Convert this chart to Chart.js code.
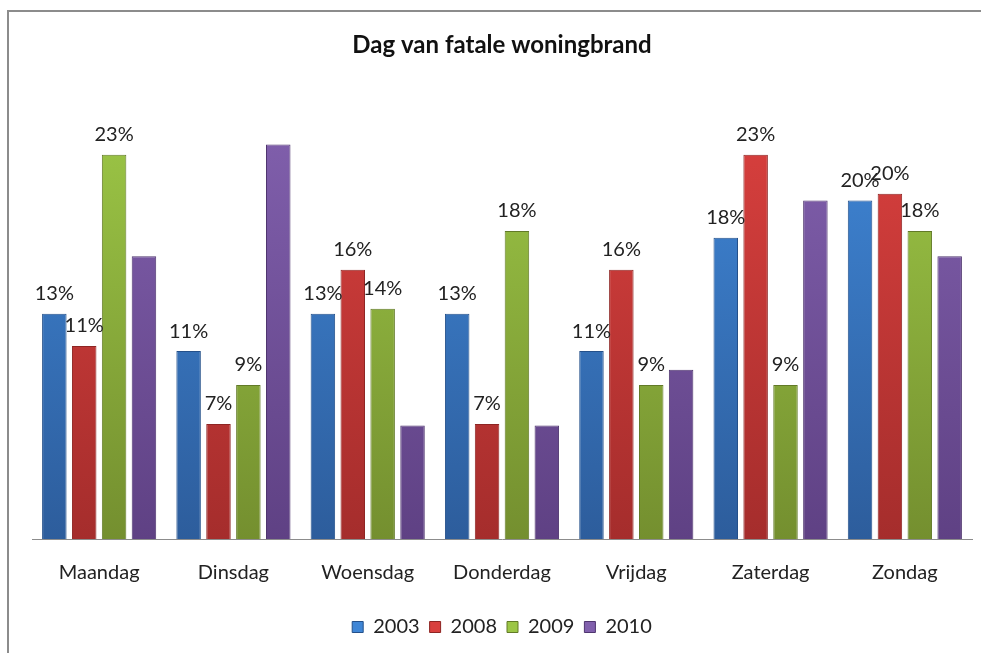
<!DOCTYPE html>
<html>
<head>
<meta charset="utf-8">
<script src="https://cdn.jsdelivr.net/npm/chart.js@4"></script>
<style>
  html, body { margin: 0; padding: 0; background: #fff; overflow: hidden; }
</style>
</head>
<body>
<canvas id="chart" width="981" height="653"></canvas>
<script>
const days = ['Maandag', 'Dinsdag', 'Woensdag', 'Donderdag', 'Vrijdag', 'Zaterdag', 'Zondag'];
const years = ['2003', '2008', '2009', '2010'];

// shares per day (%)
const share2003 = [13.3, 11.1, 13.3, 13.3, 11.1, 17.8, 20.0];
const share2008 = [11.4, 6.8, 15.9, 6.8, 15.9, 22.7, 20.4];
const share2009 = [22.7, 9.1, 13.6, 18.2, 9.1, 9.1, 18.2];
const share2010 = [16.7, 23.3, 6.7, 6.7, 10.0, 20.0, 16.7];

const labelled = [true, true, true, false]; // 2010 has no value labels

const topColors = ['#3f86d6', '#d9403e', '#9cc646', '#8160ad'];
const bottomColors = ['#2d5d9c', '#a52d2c', '#748f2f', '#5f4184'];
const edgeColors = ['#24508a', '#8e2523', '#627a27', '#4f356f'];

const FONT = 'Lato, "Open Sans", sans-serif';

function barFill(i) {
  return function (c) {
    const area = c.chart.chartArea;
    if (!area) return topColors[i];
    const g = c.chart.ctx.createLinearGradient(0, area.top, 0, area.bottom);
    g.addColorStop(0, topColors[i]);
    g.addColorStop(1, bottomColors[i]);
    return g;
  };
}

// open frame: top and left edge only
const frame = {
  id: 'frame',
  beforeDraw(chart) {
    const ctx = chart.ctx;
    ctx.save();
    ctx.strokeStyle = '#8c8c8c';
    ctx.lineWidth = 2;
    ctx.beginPath();
    ctx.moveTo(8, chart.height);
    ctx.lineTo(8, 11);
    ctx.lineTo(chart.width, 11);
    ctx.stroke();
    ctx.restore();
  }
};

const valueLabels = {
  id: 'valueLabels',
  afterDatasetsDraw(chart) {
    const ctx = chart.ctx;
    ctx.save();
    ctx.font = '20px ' + FONT;
    ctx.fillStyle = '#222';
    ctx.textAlign = 'center';
    ctx.textBaseline = 'middle';
    chart.data.datasets.forEach((ds, i) => {
      if (!labelled[i]) return;
      chart.getDatasetMeta(i).data.forEach((bar, j) => {
        ctx.fillText(Math.round(ds.data[j]) + '%', bar.x, bar.y - 20);
      });
    });
    ctx.restore();
  }
};

const allShares = [share2003, share2008, share2009, share2010];

new Chart(document.getElementById('chart'), {
  type: 'bar',
  data: {
    labels: days,
    datasets: years.map((y, i) => ({
      label: y,
      data: allShares[i],
      backgroundColor: barFill(i),
      borderColor: edgeColors[i],
      borderWidth: 1,
      barPercentage: 0.82,
      categoryPercentage: 0.89
    }))
  },
  options: {
    responsive: false,
    animation: false,
    layout: { padding: { left: 32, right: 9, top: 0, bottom: 6 } },
    scales: {
      x: {
        grid: { display: false, drawTicks: false },
        border: { display: true, color: '#8c8c8c', width: 1 },
        ticks: { color: '#222', font: { size: 20, family: FONT }, padding: 22 }
      },
      y: {
        display: false,
        min: 0,
        max: 25
      }
    },
    plugins: {
      title: {
        display: true,
        text: 'Dag van fatale woningbrand',
        color: '#111',
        font: { size: 24, weight: 'bold', family: FONT },
        padding: { top: 31, bottom: 56 }
      },
      legend: {
        position: 'bottom',
        labels: {
          color: '#222',
          font: { size: 20, family: FONT },
          boxWidth: 11,
          boxHeight: 11,
          padding: 10,
          generateLabels(chart) {
            return chart.data.datasets.map((ds, i) => ({
              text: ds.label,
              fillStyle: topColors[i],
              strokeStyle: edgeColors[i],
              lineWidth: 1,
              datasetIndex: i,
              fontColor: '#222'
            }));
          }
        }
      },
      tooltip: { enabled: false }
    }
  },
  plugins: [frame, valueLabels]
});
</script>
</body>
</html>
